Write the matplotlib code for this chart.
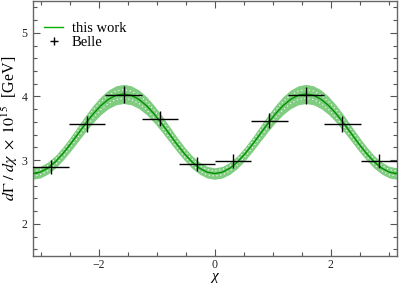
import numpy as np
import matplotlib
matplotlib.use("Agg")
import matplotlib.pyplot as plt

plt.rcParams['font.family'] = ['Liberation Serif', 'DejaVu Serif']
plt.rcParams['mathtext.fontset'] = 'stix'

# theory curve ("this work"), sampled every 7.5 degrees from -pi to pi
half = [2.790, 2.811, 2.874, 2.973, 3.103, 3.253, 3.415, 3.577, 3.728, 3.857, 3.956, 4.019, 4.040]
half_err = [0.090, 0.091, 0.094, 0.099, 0.105, 0.112, 0.120, 0.128, 0.135, 0.141, 0.146, 0.149, 0.150]
curve_y = half + half[-2::-1][:12] + half[1:] + half[-2::-1]
curve_err = half_err + half_err[-2::-1][:12] + half_err[1:] + half_err[-2::-1]
curve_x = np.linspace(-np.pi, np.pi, len(curve_y))
curve_y = np.array(curve_y)
curve_err = np.array(curve_err)

# Belle data
belle_x = [-2.83, -2.20, -1.57, -0.94, -0.31, 0.31, 0.94, 1.57, 2.20, 2.83]
belle_xerr = [0.314] * 10
belle_y = [2.90, 3.57, 4.03, 3.65, 2.94, 2.99, 3.62, 4.02, 3.57, 2.99]
belle_yerr = [0.11, 0.12, 0.13, 0.12, 0.11, 0.11, 0.12, 0.13, 0.12, 0.11]

fig = plt.figure(figsize=(3.99, 2.84), dpi=100)
ax = fig.add_axes([0.0815, 0.0996, 0.9135, 0.897])

ax.fill_between(curve_x, curve_y - curve_err, curve_y + curve_err,
                color='#80cc80', lw=0, zorder=1)
inner = 0.45 * curve_err
for s in (-1, 1):
    ax.plot(curve_x, curve_y + s * inner, color='white', lw=0.8,
            ls=(0, (1, 2.5)), zorder=2)
ax.plot(curve_x, curve_y, color='#009000', lw=1.0, zorder=3, label='this work')
ax.errorbar(belle_x, belle_y, xerr=belle_xerr, yerr=belle_yerr, fmt='none',
            ecolor='black', elinewidth=1.0, capsize=0, zorder=4)
ax.plot([], [], ls='none', marker='+', color='black', ms=6, mew=1.0, label='Belle')

ax.set_xlim(-np.pi, np.pi)
ax.set_ylim(1.5, 5.5)
ax.set_xticks([-2, 0, 2])
ax.set_xticks(np.arange(-3.0, 3.01, 0.5), minor=True)
ax.set_yticks([2, 3, 4, 5])
ax.set_yticks(np.arange(1.6, 5.5, 0.2), minor=True)
ax.tick_params(which='both', direction='in', top=True, right=True,
               colors='#555555', labelcolor='#222222', labelsize=8.5)
ax.tick_params(which='major', length=5, width=0.8)
ax.tick_params(which='minor', length=3, width=0.8)
ax.tick_params(axis='x', which='major', pad=2.5)
for sp in ax.spines.values():
    sp.set_color('#666666')
    sp.set_linewidth(1.0)

ax_center = ax.get_position().x0 + ax.get_position().width / 2
fig.text(ax_center, 1.0 / 284, 'χ', fontsize=11, style='italic',
         ha='center', va='bottom')
ax.set_ylabel(r'$d\Gamma\ /\ d\chi\ \times\ 10^{15}$  [GeV]', fontsize=11.5, labelpad=1)

leg = ax.legend(loc='upper left', frameon=False, fontsize=10.5, handlelength=1.3,
                handletextpad=0.6, borderaxespad=0.4, labelspacing=0.05,
                bbox_to_anchor=(0.0, 0.965))
leg.get_lines()[0].set_color('#00b000')

fig.savefig('out.png', dpi=100)
